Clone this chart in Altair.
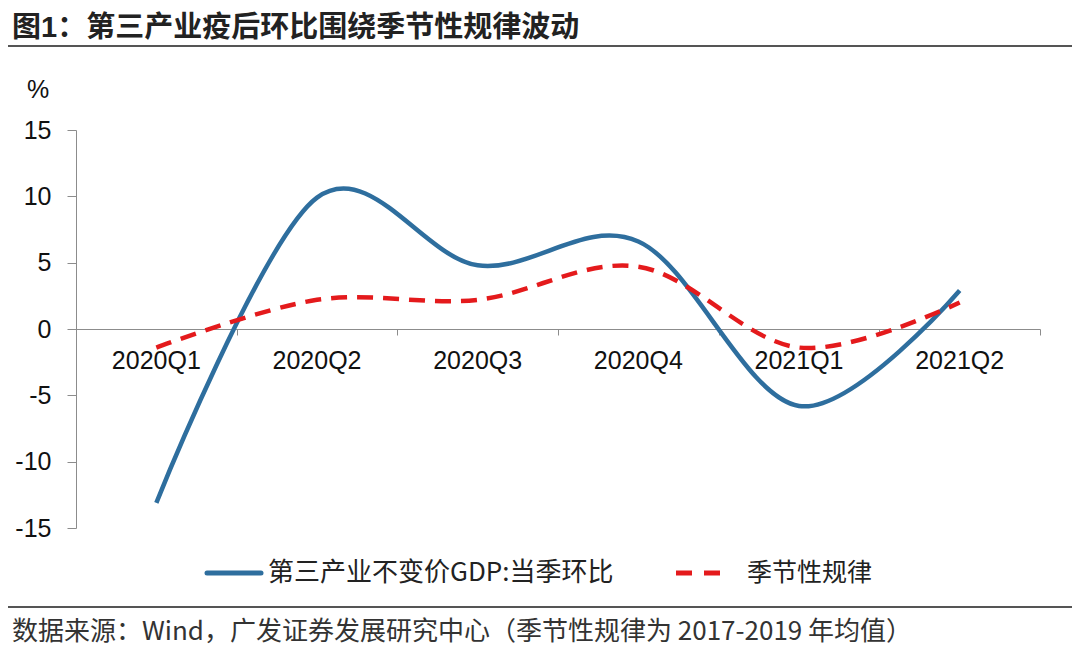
import altair as alt
import pandas as pd

quarters = ["2020Q1", "2020Q2", "2020Q3", "2020Q4", "2021Q1", "2021Q2"]
gdp_qoq = [-13.1, 9.9, 4.8, 6.6, -5.8, 2.9]
seasonal = [-1.4, 2.2, 2.2, 4.7, -1.4, 2.0]

name_gdp = "第三产业不变价GDP:当季环比"
name_season = "季节性规律"
title_text = "图1：第三产业疫后环比围绕季节性规律波动"
source_text = "数据来源：Wind，广发证券发展研究中心（季节性规律为 2017-2019 年均值）"

BLUE = "#2E6E9E"
RED = "#E41A1C"
FONT = "Liberation Sans, Noto Sans CJK SC, sans-serif"
CJK = "Noto Sans CJK SC, Liberation Sans, sans-serif"

df = pd.DataFrame({
    "pos": [i + 0.5 for i in range(len(quarters))],
    "quarter": quarters,
    "gdp": gdp_qoq,
    "season": seasonal,
})

W, H = 964, 398

xscale = alt.Scale(domain=[0, len(quarters)], nice=False, zero=False)
yscale = alt.Scale(domain=[-15, 15], nice=False)

x_enc = alt.X("pos:Q", scale=xscale, axis=alt.Axis(
    values=list(range(0, len(quarters) + 1)), labels=False, title=None, grid=False,
    domainColor="#8c8c8c", tickColor="#8c8c8c", tickSize=6, offset=-H / 2))

base = alt.Chart(df)

gdp_line = base.mark_line(color=BLUE, strokeWidth=4.5, interpolate="cardinal").encode(
    x=x_enc,
    y=alt.Y("gdp:Q", scale=yscale, axis=alt.Axis(
        values=[-15, -10, -5, 0, 5, 10, 15], title=None, grid=False,
        domainColor="#8c8c8c", tickColor="#8c8c8c", tickSize=9,
        labelExpr="'' + datum.value",
        labelFont=FONT, labelFontSize=25, labelColor="#111", labelPadding=16)),
)

season_line = base.mark_line(color=RED, strokeWidth=4.5, strokeDash=[16, 10],
                             interpolate="cardinal").encode(
    x=alt.X("pos:Q", scale=xscale),
    y=alt.Y("season:Q", scale=yscale),
)

xlabels = base.mark_text(font=FONT, fontSize=25, color="#111", baseline="middle", dy=32).encode(
    x=alt.X("pos:Q", scale=xscale),
    y=alt.Y("zero:Q", scale=yscale),
    text="quarter:N",
).transform_calculate(zero="0")

ann = pd.DataFrame({"k": [0]})
a = alt.Chart(ann)

pct = a.mark_text(text="%", font=FONT, fontSize=25, color="#111", align="center",
                  baseline="middle").encode(x=alt.value(-38), y=alt.value(-40))
title = a.mark_text(text=title_text, font=FONT, fontSize=29, fontWeight="bold", color="#222",
                    align="left", baseline="middle").encode(x=alt.value(-64), y=alt.value(-102))
top_rule = a.mark_rule(color="#555", strokeWidth=2).encode(
    x=alt.value(-68), x2=alt.value(W + 32), y=alt.value(-84))
bottom_rule = a.mark_rule(color="#555", strokeWidth=2).encode(
    x=alt.value(-68), x2=alt.value(W + 32), y=alt.value(477))
source = a.mark_text(text=source_text, font=CJK, fontSize=26, color="#333",
                     align="left", baseline="middle").encode(x=alt.value(-64), y=alt.value(502))

leg_blue = a.mark_rule(color=BLUE, strokeWidth=5, strokeCap="round").encode(
    x=alt.value(131), x2=alt.value(185), y=alt.value(443))
leg_blue_t = a.mark_text(text=name_gdp, font=CJK, fontSize=26, color="#222",
                         align="left", baseline="middle").encode(x=alt.value(192), y=alt.value(443))
leg_red = a.mark_rule(color=RED, strokeWidth=5, strokeDash=[16, 12]).encode(
    x=alt.value(600), x2=alt.value(647), y=alt.value(443))
leg_red_t = a.mark_text(text=name_season, font=CJK, fontSize=25, color="#222",
                        align="left", baseline="middle").encode(x=alt.value(671), y=alt.value(443))

chart = alt.layer(
    gdp_line, season_line, xlabels, pct, title, top_rule, bottom_rule, source,
    leg_blue, leg_blue_t, leg_red, leg_red_t,
).properties(
    width=W, height=H,
    autosize=alt.AutoSizeParams(type="none"),
    padding={"left": 68, "top": 122, "right": 32, "bottom": 119},
    background="white",
).configure_view(stroke=None)

chart.save("out.html", embed_options={"renderer": "svg", "actions": False})
